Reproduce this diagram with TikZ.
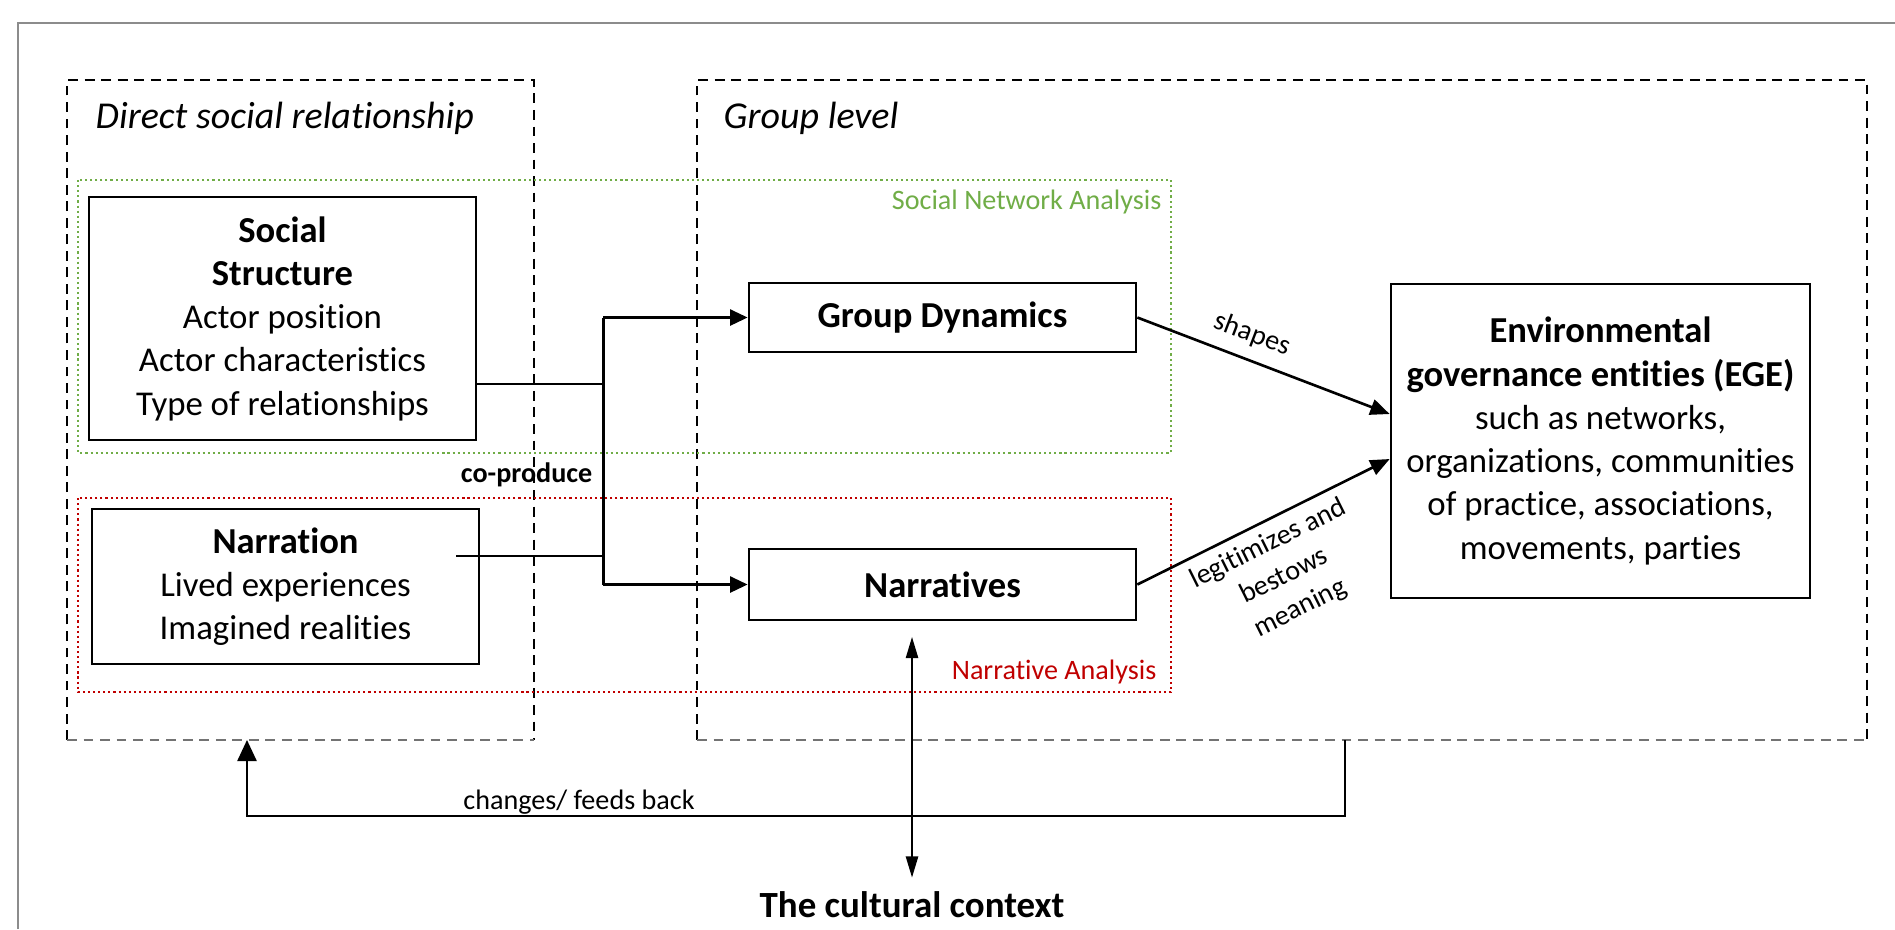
\documentclass[tikz,border=0pt]{standalone}
\usepackage{fontspec}
\setmainfont{Carlito}[Ligatures={NoCommon}]
\usetikzlibrary{arrows.meta, positioning, calc}
\definecolor{snagreen}{HTML}{70AD47}
\definecolor{nared}{HTML}{C00000}
\newcommand{\ttl}[1]{{\fontsize{10.4}{12.3}\selectfont\bfseries #1}}

\begin{document}
\begin{tikzpicture}[x=0.01cm, y=-0.01cm,
  box/.style={draw, line width=0.7pt, align=center, inner sep=0pt, font=\fontsize{9.9}{12.3}\selectfont},
  zone/.style={dash pattern=on 2.8pt off 1.9pt, line width=0.6pt},
  lvl/.style={anchor=base west, inner sep=0pt, font=\fontsize{10.8}{13}\selectfont\itshape},
  lbl/.style={font=\fontsize{8}{9.6}\selectfont},
  link/.style={line width=0.6pt},
  trunk/.style={line width=0.85pt},
  arr/.style={line width=0.75pt, -{Triangle[length=5.5pt,width=4.5pt]}}]
\useasboundingbox (0,0) rectangle (1895,929);

% frame
\draw[black!45, line width=0.7pt] (18,929) -- (18,23) -- (1895,23);

% levels
\draw[zone] (67,740) -- (67,80) -- (534,80) -- (534,740);
\draw[zone, black!55, line width=0.7pt] (67,740) -- (534,740);
\draw[zone] (697,740) -- (697,80) -- (1867,80) -- (1867,740);
\draw[zone, black!55, line width=0.7pt] (697,740) -- (1867,740);
\node[lvl] (dsrlbl) at (95,128) {Direct social relationship};
\node[lvl] (grplbl) at (723,128) {Group level};

% analysis areas
\draw[snagreen, line width=0.6pt, dash pattern=on 0.6pt off 0.85pt] (78,180) rectangle (1171,453);
\draw[nared, line width=0.6pt, dash pattern=on 0.6pt off 0.85pt] (78,498) rectangle (1171,692);
\node[lbl, text=snagreen, anchor=east, inner sep=0pt] (snalbl) at (1162,202) {Social Network Analysis};
\node[lbl, text=nared, anchor=east, inner sep=0pt] (nalbl) at (1157,672) {Narrative Analysis};

% boxes
\node[box, minimum width=3.87cm, minimum height=2.43cm] (ss) at (282.5,318.5)
  {\ttl{Social}\\\ttl{Structure}\\Actor position\\Actor characteristics\\Type of relationships};
\node[box, minimum width=3.87cm, minimum height=1.55cm] (nar) at (285.5,586.5)
  {\ttl{Narration}\\Lived experiences\\Imagined realities};
\node[box, minimum width=3.87cm, minimum height=0.69cm] (gd) at (942.5,317.5) {\ttl{Group Dynamics}};
\node[box, minimum width=3.87cm, minimum height=0.71cm] (nr) at (942.5,584.5) {\ttl{Narratives}};
\node[box, minimum width=4.19cm, minimum height=3.14cm] (ege) at (1600.5,441)
  {\ttl{Environmental}\\\ttl{governance entities (EGE)}\\such as networks,\\organizations, communities\\of practice, associations,\\movements, parties};

% co-production
\coordinate (jss) at (603,384);
\coordinate (jnar) at (603,556);
\coordinate (nstart) at (456,556);
\draw[link] (ss.east |- jss) -- (jss);
\draw[link] (nstart) -- (jnar);
\draw[trunk] (jss |- gd.west) -- (jss |- nr.west);
\draw[trunk, -{Triangle[length=5pt,width=4.5pt]}] (jss |- gd.west) -- (gd.west);
\draw[trunk, -{Triangle[length=5pt,width=4.5pt]}] (jss |- nr.west) -- (nr.west);
\node[lbl, font=\fontsize{8}{9.6}\selectfont\bfseries, anchor=east, inner sep=0pt] (coprod) at (593,475) {co-produce};

% towards the EGE
\draw[arr] (gd.east) -- ($(ege.west)+(0,-27)$)
  node[lbl, pos=0.42, above, sloped] (shp) {shapes};
\draw[arr] (nr.east) -- ($(ege.west)+(0,18)$)
  node[lbl, font=\fontsize{8}{10.2}\selectfont, pos=0.48, below, sloped, align=center, inner sep=2.5pt] (legit) {legitimizes and\\bestows\\meaning};

% cultural context
\node[font=\fontsize{10.5}{12.6}\selectfont\bfseries] (ctx) at (912,905) {The cultural context};
\coordinate (ctxtop) at (912,637);
\draw[line width=0.45pt, {Triangle[length=6pt,width=3.5pt]}-{Triangle[length=6pt,width=3.5pt]}] (ctxtop) -- ($(ctx.north)+(0,-2)$);

% feedback
\coordinate (fbstart) at (1345,740);
\coordinate (fbend) at (247,740);
\draw[line width=0.5pt, -{Triangle[length=6pt,width=5.5pt]}] (fbstart) -- (1345,816) -| (fbend);
\node[lbl, anchor=base] (fblbl) at (579,809) {changes/ feeds back};
\end{tikzpicture}
\end{document}
